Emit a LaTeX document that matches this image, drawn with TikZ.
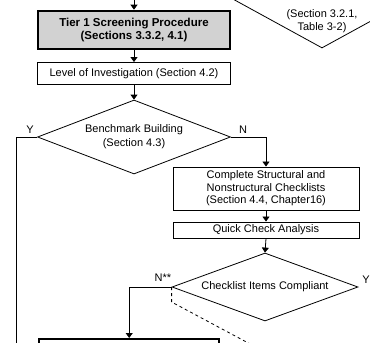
\documentclass[tikz,border=0pt]{standalone}
\usepackage{fontspec}
\setmainfont{Liberation Sans}
\usetikzlibrary{shapes.geometric,arrows.meta}
\begin{document}
\begin{tikzpicture}[x=1pt,y=-1pt,
  font=\fontsize{11}{12.5}\selectfont,
  box/.style={draw, line width=0.9pt, rectangle, inner sep=0pt, align=center},
  dia/.style={draw, line width=0.8pt, diamond, aspect=3, inner sep=0pt, align=center},
  conn/.style={line width=0.8pt},
  arr/.style={conn, -{Triangle[width=7pt,length=5pt]}},
  lbl/.style={inner sep=0pt}]
\useasboundingbox (0,0) rectangle (370,343);
\clip (0,0) rectangle (370,343);
% nodes
\node[box, line width=2.6pt, fill=gray!35, minimum width=192pt, minimum height=38pt,
      font=\fontsize{11.5}{13.5}\selectfont\bfseries] (tier) at (134,30)
      {Tier 1 Screening Procedure\\(Sections 3.3.2, 4.1)};
\node[box, minimum width=193pt, minimum height=22pt] (level) at (134,73.5)
      {Level of Investigation (Section 4.2)};
\node[dia, minimum width=193pt, minimum height=74pt,
      font=\fontsize{11}{14}\selectfont] (bench) at (134,137)
      {Benchmark Building\\(Section 4.3)};
\node[box, minimum width=186pt, minimum height=43pt] (complete) at (266,188.5)
      {Complete Structural and\\Nonstructural Checklists\\(Section 4.4, Chapter16)};
\node[box, minimum width=186pt, minimum height=16pt] (quick) at (266,230)
      {Quick Check Analysis};
\node[dia, minimum width=186pt, minimum height=68pt] (check) at (265,287)
      {Checklist Items Compliant};
\node[dia, minimum width=186pt, minimum height=102pt] (prelim) at (322,-3) {};
\node[lbl, align=center] (prelimtxt) at (322,21) {(Section 3.2.1,\\Table 3-2)};
\node[box, line width=2.4pt, minimum width=180pt, minimum height=40pt, anchor=north west]
      (final) at (38,338) {};
% labels
\node[lbl] (ylab) at (30,130) {Y};
\node[lbl] (nlab) at (243,130) {N};
\node[lbl] (nlab2) at (163,278) {N**};
\node[lbl] (ylab2) at (366,280) {Y};
% connectors
\coordinate (topin) at (134,-5);
\coordinate (yturn) at (16,137);
\coordinate (yend) at (16,360);
\coordinate (dashend) at (252,345);
\draw[arr] (topin) -- (tier.north);
\draw[arr] (tier.south) -- (level.north);
\draw[arr] (level.south) -- (bench.north);
\draw[conn] (bench.west) -- (yturn) -- (yend);
\draw[arr] (bench.east) -| (complete.north);
\draw[arr] (complete.south) -- (quick.north);
\draw[arr] (quick.south) -- (check.north);
\draw[arr] (check.west) -| (final.north);
\draw[conn, dashed] (check.west) -- ++(0,15) -- (dashend);
\end{tikzpicture}
\end{document}
